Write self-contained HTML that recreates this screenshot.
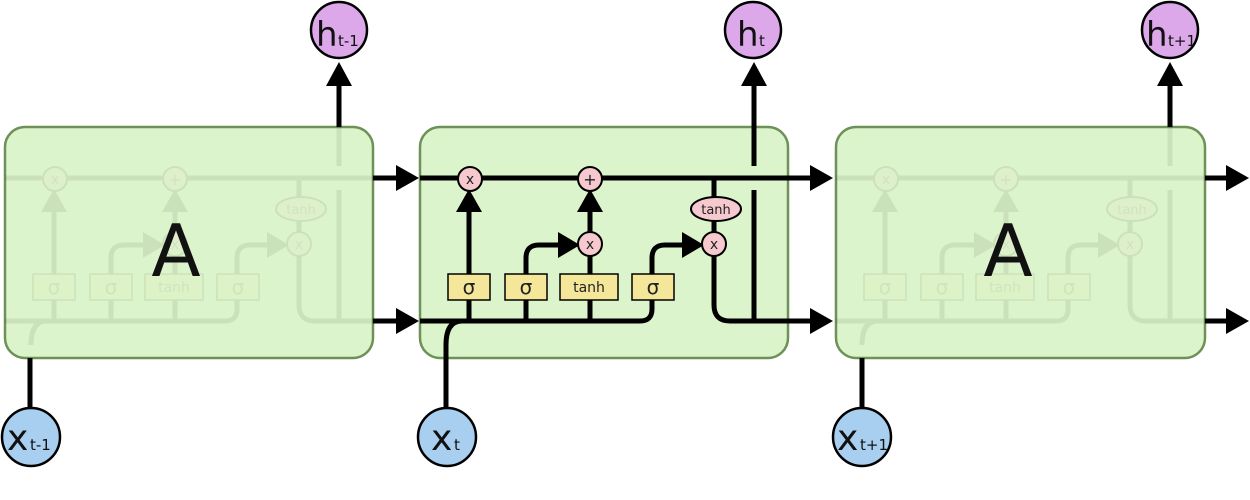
<!DOCTYPE html>
<html><head><meta charset="utf-8"><style>
html,body{margin:0;padding:0;background:#fff;}
svg{display:block;}
text{font-family:"DejaVu Sans","Liberation Sans",sans-serif;}
</style></head><body>
<svg width="1250" height="500" viewBox="0 0 1250 500" xmlns="http://www.w3.org/2000/svg">
<defs>
<g id="inner">
  <g fill="none" stroke="#000" stroke-width="5">
    <path d="M420,178 H815"/>
    <path d="M420,321 H640 Q652,321 652,309 V258 Q652,245 665,245 H688"/>
    <path d="M469,321 V208"/>
    <path d="M526,321 V258 Q526,245 539,245 H565"/>
    <path d="M590,321 V256"/>
    <path d="M590,232 V208"/>
    <path d="M714,178 V221"/>
    <path d="M714,221 V305 Q714,321 730,321 H814"/>
    <path d="M754,321 V190"/>
    <path d="M754,166 V127"/>
    <path d="M446,345 Q446,321 462,321"/>
  </g>
  <g fill="#000">
    <polygon points="469,189 456,212 482,212"/>
    <polygon points="590,189 577,212 603,212"/>
    <polygon points="580,245 558,232 558,258"/>
    <polygon points="704,245 682,232 682,258"/>
  </g>
  <g stroke="#000" stroke-width="2" fill="#f6c9cf">
    <circle cx="470" cy="179" r="12"/>
    <circle cx="590" cy="179" r="12"/>
    <circle cx="590" cy="244" r="12"/>
    <circle cx="714" cy="244" r="12"/>
    <ellipse cx="716" cy="209" rx="25" ry="12"/>
  </g>
  <g stroke="#000" stroke-width="1.5" fill="#f5e79a">
    <rect x="448" y="274" width="42" height="26"/>
    <rect x="505" y="274" width="42" height="26"/>
    <rect x="560" y="274" width="58" height="26"/>
    <rect x="632" y="274" width="42" height="26"/>
  </g>
  <g font-size="15" text-anchor="middle" fill="#222">
    <text x="470" y="184" font-size="14">x</text>
    <text x="590" y="185" font-size="16">+</text>
    <text x="590" y="249" font-size="14">x</text>
    <text x="714" y="249" font-size="14">x</text>
    <text x="716" y="214" font-size="13">tanh</text>
    <text x="469" y="294" font-size="20">σ</text>
    <text x="526" y="294" font-size="20">σ</text>
    <text x="589" y="292" font-size="14">tanh</text>
    <text x="653" y="294" font-size="20">σ</text>
  </g>
</g>
</defs>

<rect x="5" y="127" width="368" height="231" rx="20" fill="#dcf4cb" stroke="#6e9158" stroke-width="2.5"/>
<rect x="420" y="127" width="368" height="231" rx="20" fill="#dcf4cb" stroke="#6e9158" stroke-width="2.5"/>
<rect x="836" y="127" width="369" height="231" rx="20" fill="#dcf4cb" stroke="#6e9158" stroke-width="2.5"/>

<g opacity="0.07"><use href="#inner" transform="translate(-415,0)"/></g>
<g opacity="0.07"><use href="#inner" transform="translate(416,0)"/></g>
<use href="#inner"/>

<text x="176" y="276" font-size="72" text-anchor="middle" fill="#111">A</text>
<text x="1008" y="276" font-size="72" text-anchor="middle" fill="#111">A</text>

<g stroke="#000" stroke-width="5" fill="none">
  <path d="M373,178 H400"/><path d="M373,321 H400"/>
  <path d="M788,178 H814"/><path d="M788,321 H814"/>
  <path d="M1205,178 H1230"/><path d="M1205,321 H1230"/>
  <path d="M339,127 V82"/><path d="M754,127 V82"/><path d="M1170,127 V82"/>
  <path d="M30,408 V358"/><path d="M446,408 V345"/><path d="M862,408 V358"/>
</g>
<g fill="#000">
  <polygon points="419,178 396,165 396,191"/>
  <polygon points="419,321 396,308 396,334"/>
  <polygon points="833,178 810,165 810,191"/>
  <polygon points="833,321 810,308 810,334"/>
  <polygon points="1249,178 1226,165 1226,191"/>
  <polygon points="1249,321 1226,308 1226,334"/>
  <polygon points="339,62 326,86 352,86"/>
  <polygon points="754,62 741,86 767,86"/>
  <polygon points="1170,62 1157,86 1183,86"/>
</g>

<g stroke="#000" stroke-width="2.5" fill="#dca8ea">
  <circle cx="339" cy="30" r="28"/>
  <circle cx="753" cy="30" r="28"/>
  <circle cx="1170" cy="30" r="28"/>
</g>
<g stroke="#000" stroke-width="2.5" fill="#a8cff0">
  <circle cx="31" cy="437" r="29"/>
  <circle cx="447" cy="437" r="29"/>
  <circle cx="862" cy="437" r="29"/>
</g>
<g fill="#111">
  <text x="316" y="46" font-size="34">h</text><text x="338" y="46" font-size="15">t-1</text>
  <text x="737" y="46" font-size="34">h</text><text x="759" y="46" font-size="15">t</text>
  <text x="1146" y="46" font-size="34">h</text><text x="1168" y="46" font-size="15">t+1</text>
  <text x="7" y="450" font-size="36">x</text><text x="30" y="450" font-size="15">t-1</text>
  <text x="431" y="450" font-size="36">x</text><text x="454" y="450" font-size="15">t</text>
  <text x="837" y="450" font-size="36">x</text><text x="860" y="450" font-size="15">t+1</text>
</g>
</svg>
</body></html>
